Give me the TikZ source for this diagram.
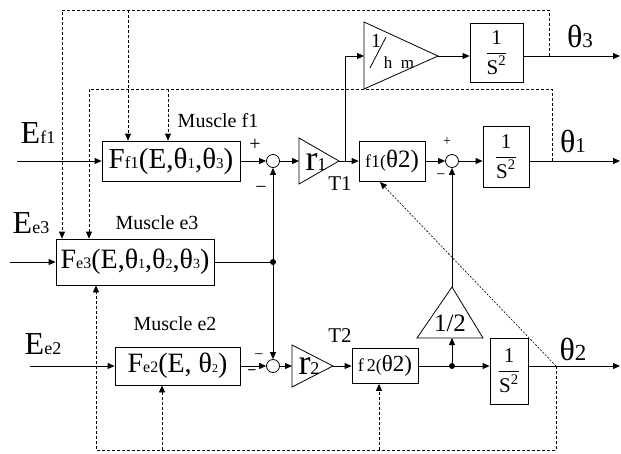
\documentclass[tikz,border=0pt]{standalone}
\usepackage{fontspec}
\usepackage{amsmath}
\setmainfont{Liberation Serif}
\usetikzlibrary{arrows.meta}
\newcommand\fs[2]{{\fontsize{#1}{#1}\selectfont #2}}
\begin{document}
\begin{tikzpicture}[x=1pt,y=-1pt,
  line/.style={line width=0.8pt},
  arr/.style={line width=0.8pt,-{Triangle[length=7pt,width=6pt]}},
  dsh/.style={line width=0.8pt,dash pattern=on 3pt off 2pt},
  darr/.style={dsh,-{Triangle[length=7pt,width=6pt]}},
  farr/.style={line width=0.6pt,dash pattern=on 2pt off 1.5pt,-{Triangle[length=7pt,width=6pt]}},
  box/.style={draw,line width=0.8pt,inner sep=0pt,anchor=center},
  sumc/.style={draw,circle,line width=0.8pt,minimum size=13pt,inner sep=0pt},
  lbl/.style={inner sep=0pt},
  dot/.style={circle,fill,inner sep=0pt,minimum size=6pt}]
\useasboundingbox (0,0) rectangle (621,453);

% boxes
\node[box,minimum width=138pt,minimum height=40pt] (Ff1) at (171,161)
  {\fs{29}{F}\fs{17}{f1}\fs{29}{(E,θ}\fs{15}{1}\fs{29}{,θ}\fs{15}{3}\fs{29}{)}};
\node[box,minimum width=158pt,minimum height=46pt] (Fe3) at (135,262)
  {\fs{28}{F}\fs{16}{e3}\fs{28}{(E,θ}\fs{14}{1}\fs{28}{,θ}\fs{14}{2}\fs{28}{,θ}\fs{14}{3}\fs{28}{)}};
\node[box,minimum width=125pt,minimum height=38pt] (Fe2) at (177.5,366)
  {\fs{28}{F}\fs{16}{e2}\fs{28}{(E, θ}\fs{12}{2}\fs{28}{)}};
\node[box,minimum width=66pt,minimum height=40pt] (f1b) at (392,161)
  {\fs{18}{f1(}\fs{25}{θ2)}};
\node[box,minimum width=66pt,minimum height=35pt] (f2b) at (385,366)
  {\fs{18}{f\,2(}\fs{23}{θ2)}};
\node[box,minimum width=53pt,minimum height=59pt] (S1) at (496.5,52.5)
  {\fs{21}{$\dfrac{\text{1}}{\text{S}^{\text{2}}}$}};
\node[box,minimum width=46pt,minimum height=61pt] (S2) at (506,156.5)
  {\fs{21}{$\dfrac{\text{1}}{\text{S}^{\text{2}}}$}};
\node[box,minimum width=38pt,minimum height=66pt] (S3) at (509,371)
  {\fs{21}{$\dfrac{\text{1}}{\text{S}^{\text{2}}}$}};

% summing junctions
\node[sumc] (c1) at (273,161) {};
\node[sumc] (c2) at (273,366) {};
\node[sumc] (c3) at (452,161) {};

% gain triangles
\draw[line] (299,138) -- (339,161) coordinate (r1a) -- (299,184) -- cycle;
\coordinate (r1in) at (299,161);
\node[lbl,anchor=base] (r1t) at (316,170) {\fs{36}{r}\fs{18}{1}};
\draw[line] (364,22) -- (438,56) coordinate (hma) -- (364,89) -- cycle;
\coordinate (hmin) at (364,56);
\node[lbl,anchor=base] (hm1) at (376,47) {\fs{20}{1}};
\node[lbl,anchor=base] (hmd) at (399,68) {\fs{17}{h\ \ m}};
\coordinate (hsa) at (370,68);
\coordinate (hsb) at (386,37);
\draw[line] (hsa) -- (hsb);
\draw[line] (292,345) -- (333,366) coordinate (r2a) -- (292,387) -- cycle;
\coordinate (r2in) at (292,366);
\node[lbl,anchor=base] (r2t) at (309,374) {\fs{36}{r}\fs{18}{2}};
\draw[line] (452,287) coordinate (hfa) -- (483,338) -- (417,338) -- cycle;
\coordinate (hfb) at (452,338);
\node[lbl] (hft) at (450,323) {\fs{25}{1/2}};

% free ends and junctions
\coordinate (in1) at (17,161);
\coordinate (in3) at (10,262);
\coordinate (in2) at (30,366);
\coordinate (o3) at (620,56);
\coordinate (o1) at (620,161);
\coordinate (o2) at (620,366);
\coordinate (br1) at (345,161);
\coordinate (j1) at (273,262);
\coordinate (j2) at (452,366);

% solid signal lines
\draw[arr] (in1) -- (Ff1.west);
\draw[arr] (Ff1.east) -- (c1.west);
\draw[arr] (c1.east) -- (r1in);
\draw[arr] (r1a) -- (f1b.west);
\draw[arr] (br1) |- (hmin);
\draw[arr] (hma) -- (hma -| S1.west);
\draw[arr] (hma -| S1.east) -- (o3);
\draw[arr] (f1b.east) -- (c3.west);
\draw[arr] (c3.east) -- (c3.east -| S2.west);
\draw[arr] (c3.east -| S2.east) -- (o1);
\draw[arr] (in3) -- (Fe3.west);
\draw[line] (Fe3.east) -- (j1);
\draw[arr] (j1) -- (c1.south);
\draw[arr] (j1) -- (c2.north);
\draw[arr] (in2) -- (Fe2.west);
\draw[arr] (Fe2.east) -- (c2.west);
\draw[arr] (c2.east) -- (r2in);
\draw[arr] (r2a) -- (f2b.west);
\draw[arr] (f2b.east) -- (f2b.east -| S3.west);
\draw[arr] (j2) -- (hfb);
\draw[arr] (hfa) -- (c3.south);
\draw[arr] (S3.east |- j2) -- (o2);
\node[dot] at (j1) {};
\node[dot] at (j2) {};

% dashed feedback lines
\coordinate (d3) at (549,56);
\coordinate (tl) at (62,10);
\coordinate (t1) at (128,10);
\draw[darr] (d3) |- (tl) -- (tl |- Fe3.north);
\draw[darr] (t1) -- (t1 |- Ff1.north);
\coordinate (d1) at (552,161);
\coordinate (tl2) at (89,89);
\coordinate (t2) at (168,89);
\draw[darr] (d1) |- (tl2) -- (tl2 |- Fe3.north);
\draw[darr] (t2) -- (t2 |- Ff1.north);
\coordinate (d2) at (556,366);
\coordinate (bl) at (96,450);
\coordinate (b1) at (162,450);
\coordinate (b2) at (379,450);
\draw[darr] (d2) |- (bl) -- (bl |- Fe3.south);
\draw[darr] (b1) -- (b1 |- Fe2.south);
\draw[darr] (b2) -- (b2 |- f2b.south);
\coordinate (f1d) at (380,182);
\draw[farr] (d2) -- (f1d);

% labels
\node[lbl,anchor=base] (lEf1) at (38,143) {\fs{32}{E}\fs{18}{f1}};
\node[lbl,anchor=base] (lEe3) at (31,233) {\fs{32}{E}\fs{18}{e3}};
\node[lbl,anchor=base] (lEe2) at (43,354) {\fs{32}{E}\fs{18}{e2}};
\node[lbl,anchor=base] (mf1) at (218,127) {\fs{20}{Muscle f1}};
\node[lbl,anchor=base] (me3) at (157,229) {\fs{20}{Muscle e3}};
\node[lbl,anchor=base] (me2) at (175,330) {\fs{20}{Muscle e2}};
\node[lbl,anchor=base] (lT1) at (340,190) {\fs{21}{T1}};
\node[lbl,anchor=base] (lT2) at (340,342) {\fs{21}{T2}};
\node[lbl,anchor=base] (th3) at (580,47) {\fs{32}{θ}\fs{21}{3}};
\node[lbl,anchor=base] (th1) at (573,152) {\fs{32}{θ}\fs{21}{1}};
\node[lbl,anchor=base] (th2) at (573,360) {\fs{32}{θ}\fs{23}{2}};
\node[lbl] (p1) at (255,145) {\fs{20}{+}};
\node[lbl] (m1) at (261,190) {\fs{20}{−}};
\node[lbl] (p3) at (447,142) {\fs{14}{+}};
\node[lbl] (m3) at (441,177) {\fs{16}{−}};
\node[lbl] (m2a) at (259,357) {\fs{16}{−}};
\node[lbl] (m2b) at (252,373) {\fs{16}{\textbf{−}}};
\end{tikzpicture}
\end{document}
